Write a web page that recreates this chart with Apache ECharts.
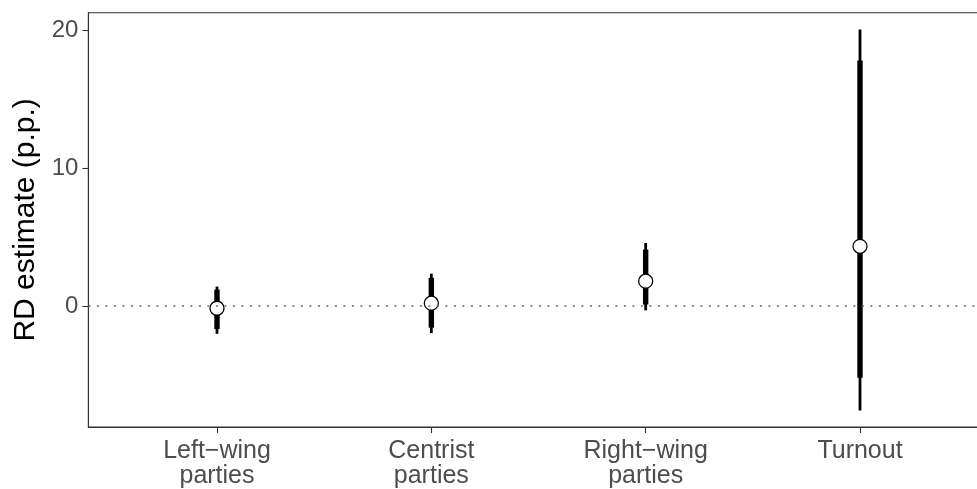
<!DOCTYPE html>
<html>
<head>
<meta charset="utf-8">
<script src="https://cdn.jsdelivr.net/npm/echarts@6/dist/echarts.min.js"></script>
<style>
html,body{margin:0;padding:0;background:#fff;overflow:hidden;width:977px;height:489px;}
#chart{width:989px;height:489px;}
</style>
</head>
<body>
<div id="chart"></div>
<script>
// Data
var categories = ['Left\u2212wing\nparties', 'Centrist\nparties', 'Right\u2212wing\nparties', 'Turnout'];
var estimates  = [-0.15, 0.22, 1.81, 4.34];
var ciWideLow  = [-2.0, -1.95, -0.3, -7.55];
var ciWideHigh = [1.42, 2.36, 4.58, 20.05];
var ciNarrowLow  = [-1.65, -1.55, 0.12, -5.18];
var ciNarrowHigh = [1.2, 2.05, 4.1, 17.8];
var yTicks = [0, 10, 20];

var positions = categories.map(function (c, i) { return i + 1; });

var barData = positions.map(function (p, i) {
  return [p, ciWideLow[i], ciWideHigh[i], ciNarrowLow[i], ciNarrowHigh[i]];
});
var pointData = positions.map(function (p, i) { return [p, estimates[i]]; });

var chart = echarts.init(document.getElementById('chart'), null, {renderer: 'canvas'});
var font = 'Liberation Sans, Arial, Helvetica, sans-serif';

chart.setOption({
  animation: false,
  backgroundColor: '#ffffff',
  grid: {
    left: 88.4, right: 0.4, top: 12.7, bottom: 61.3,
    show: true, borderColor: '#333333', borderWidth: 1.1, backgroundColor: 'transparent'
  },
  xAxis: {
    type: 'value', min: 0.4, max: 4.6,
    splitLine: {show: false},
    axisLine: {show: true, onZero: false, lineStyle: {color: '#333333', width: 1.1}},
    axisTick: {show: true, customValues: positions, length: 6, lineStyle: {color: '#333333', width: 1.1}},
    axisLabel: {
      customValues: positions,
      color: '#4d4d4d', fontSize: 25, lineHeight: 25, fontFamily: font, margin: 12,
      formatter: function (v) { return categories[Math.round(v) - 1] || ''; }
    }
  },
  yAxis: {
    type: 'value', min: -8.75, max: 21.26,
    name: 'RD estimate (p.p.)', nameLocation: 'middle', nameGap: 37,
    nameTextStyle: {color: '#000000', fontSize: 30, fontFamily: font},
    splitLine: {show: false},
    axisLine: {show: true, onZero: false, lineStyle: {color: '#333333', width: 1.1}},
    axisTick: {show: true, customValues: yTicks, length: 6, lineStyle: {color: '#333333', width: 1.1}},
    axisLabel: {customValues: yTicks, color: '#4d4d4d', fontSize: 24, fontFamily: font, margin: 10}
  },
  series: [
    {
      type: 'line', data: [], silent: true, z: 1,
      markLine: {
        silent: true, symbol: ['none', 'none'], label: {show: false},
        lineStyle: {color: '#666666', width: 1.6, type: [2, 6.5]},
        data: [{yAxis: 0}]
      }
    },
    {
      type: 'custom', z: 2,
      data: barData,
      renderItem: function (params, api) {
        var x = api.value(0);
        var a = api.coord([x, api.value(1)]);
        var b = api.coord([x, api.value(2)]);
        var c = api.coord([x, api.value(3)]);
        var d = api.coord([x, api.value(4)]);
        return {
          type: 'group',
          children: [
            {type: 'line', shape: {x1: a[0], y1: a[1], x2: b[0], y2: b[1]},
             style: {stroke: '#000000', lineWidth: 2.8}},
            {type: 'line', shape: {x1: c[0], y1: c[1], x2: d[0], y2: d[1]},
             style: {stroke: '#000000', lineWidth: 5.4}}
          ]
        };
      }
    },
    {
      type: 'scatter', z: 3, data: pointData,
      symbol: 'circle', symbolSize: 14,
      itemStyle: {color: '#ffffff', borderColor: '#000000', borderWidth: 1.3, opacity: 1}
    }
  ]
});
</script>
</body>
</html>
